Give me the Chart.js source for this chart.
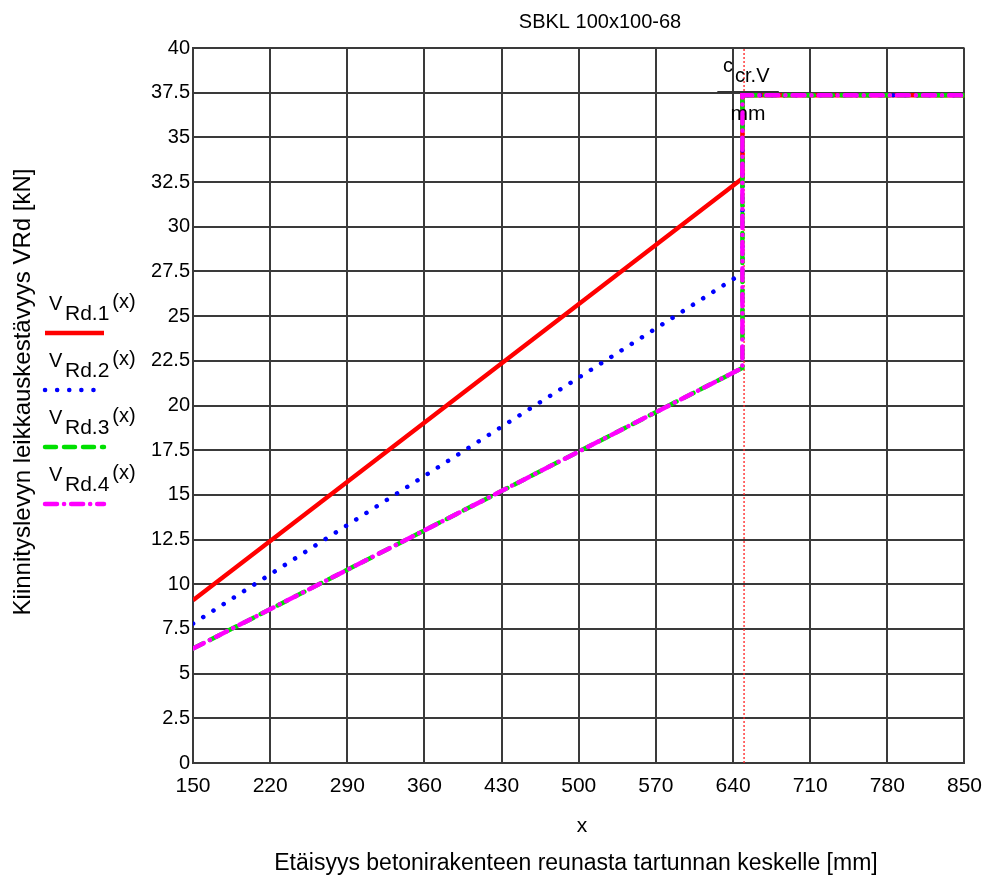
<!DOCTYPE html>
<html>
<head>
<meta charset="utf-8">
<script src="https://cdn.jsdelivr.net/npm/chart.js@4.4.1/dist/chart.umd.min.js"></script>
<style>
html,body{margin:0;padding:0;background:#fff;}
#wrap{position:relative;width:993px;height:877px;}
</style>
</head>
<body>
<div id="wrap"><canvas id="c" width="993" height="877"></canvas></div>
<script>
// ---- data ----
const xTicks = [150, 220, 290, 360, 430, 500, 570, 640, 710, 780, 850];
const yTicks = [0, 2.5, 5, 7.5, 10, 12.5, 15, 17.5, 20, 22.5, 25, 27.5, 30, 32.5, 35, 37.5, 40];
const xPoints = [150, 648.5, 648.5, 850];
const vRd1 = [9.1, 32.7, 37.35, 37.35];
const vRd2 = [7.8, 27.4, 37.35, 37.35];
const vRd3 = [6.4, 22.1, 37.35, 37.35];
const vRd4 = [6.4, 22.1, 37.35, 37.35];
const cCrV = [650, 650];
const cCrVy = [0, 40];
const seriesNames = ['Rd.1', 'Rd.2', 'Rd.3', 'Rd.4'];
const titleText = 'SBKL 100x100-68';
const yTitle = 'Kiinnityslevyn leikkauskestävyys VRd [kN]';
const xTitle1 = 'x';
const xTitle2 = 'Etäisyys betonirakenteen reunasta tartunnan keskelle [mm]';

const FONT = '"Liberation Sans", Arial, sans-serif';
const pts = (xs, ys) => xs.map((x, i) => ({x: x, y: ys[i]}));

const styles = [
  {color: '#ff0000', width: 4.5, dash: [], cap: 'butt'},
  {color: '#0000ff', width: 4.5, dash: [0.1, 12], cap: 'round'},
  {color: '#00e000', width: 4.5, dash: [11, 8], cap: 'round'},
  {color: '#ff00ff', width: 4.5, dash: [12, 7, 0.1, 7], cap: 'round'}
];

const extras = {
  id: 'extras',
  afterDraw(chart) {
    const ctx = chart.ctx;
    const xs = chart.scales.x;
    ctx.save();
    ctx.fillStyle = '#000';
    // title
    ctx.font = '20px ' + FONT;
    ctx.textAlign = 'center';
    ctx.textBaseline = 'alphabetic';
    ctx.fillText(titleText, 600, 28);
    // x titles
    ctx.font = '21px ' + FONT;
    ctx.fillText(xTitle1, 582, 832);
    ctx.font = '23px ' + FONT;
    ctx.fillText(xTitle2, 576, 870);
    // y title
    ctx.save();
    ctx.translate(30, 392);
    ctx.rotate(-Math.PI / 2);
    ctx.font = '24px ' + FONT;
    ctx.fillText(yTitle, 0, 0);
    ctx.restore();
    // legend
    for (let i = 0; i < 4; i++) {
      const base = 310 + i * 57;
      ctx.textAlign = 'left';
      ctx.fillStyle = '#000';
      ctx.font = '20px ' + FONT;
      ctx.fillText('V', 49, base);
      ctx.font = '21px ' + FONT;
      ctx.fillText(seriesNames[i], 65, base + 10);
      const w = ctx.measureText(seriesNames[i]).width;
      ctx.font = '20px ' + FONT;
      ctx.fillText('(x)', 65 + w + 3, base - 2);
      const s = styles[i];
      ctx.beginPath();
      ctx.strokeStyle = s.color;
      ctx.lineWidth = s.width;
      ctx.lineCap = s.cap;
      ctx.setLineDash(s.dash);
      ctx.moveTo(45, base + 23);
      ctx.lineTo(104, base + 23);
      ctx.stroke();
    }
    ctx.setLineDash([]);
    // c_cr.V / mm annotation
    const px = xs.getPixelForValue(cCrV[0]);
    ctx.fillStyle = '#000';
    ctx.textAlign = 'left';
    ctx.font = '20px ' + FONT;
    ctx.fillText('c', px - 21, 72);
    ctx.fillText('cr.V', px - 9, 82);
    ctx.beginPath();
    ctx.strokeStyle = '#333';
    ctx.lineWidth = 2;
    ctx.moveTo(px - 26, 92);
    ctx.lineTo(px + 34, 92);
    ctx.stroke();
    ctx.textAlign = 'center';
    ctx.font = '21px ' + FONT;
    ctx.fillText('mm', px + 4, 120);
    ctx.restore();
  }
};

const datasets = [
  {data: pts(xPoints, vRd4), order: 1},
  {data: pts(xPoints, vRd3), order: 2},
  {data: pts(xPoints, vRd2), order: 3},
  {data: pts(xPoints, vRd1), order: 4}
].map((d, k) => {
  const s = styles[3 - k];
  return Object.assign(d, {
    borderColor: s.color, borderWidth: s.width, borderDash: s.dash,
    borderCapStyle: s.cap, pointRadius: 0, fill: false, tension: 0
  });
});
datasets.push({
  data: pts(cCrV, cCrVy), order: 5, borderColor: '#ff2020', borderWidth: 1.3,
  borderDash: [2, 2], pointRadius: 0, fill: false
});

new Chart(document.getElementById('c'), {
  type: 'line',
  data: {datasets: datasets},
  plugins: [extras],
  options: {
    responsive: false,
    animation: false,
    events: [],
    layout: {padding: {top: 48, right: 27, bottom: 0, left: 0}},
    plugins: {legend: {display: false}, tooltip: {enabled: false}, title: {display: false}},
    scales: {
      x: {
        type: 'linear', min: 150, max: 850,
        afterBuildTicks: s => { s.ticks = xTicks.map(v => ({value: v})); },
        afterFit: s => { s.height = 114; },
        grid: {color: '#3a3a3a', lineWidth: 2, drawTicks: false},
        border: {color: '#3a3a3a', width: 2},
        ticks: {color: '#000', font: {family: FONT, size: 21}, padding: 11, autoSkip: false, maxRotation: 0}
      },
      y: {
        type: 'linear', min: 0, max: 40,
        afterBuildTicks: s => { s.ticks = yTicks.map(v => ({value: v})); },
        afterFit: s => { s.width = 193; },
        grid: {color: '#3a3a3a', lineWidth: 2, drawTicks: false},
        border: {color: '#3a3a3a', width: 2},
        ticks: {color: '#000', font: {family: FONT, size: 20}, padding: 3, autoSkip: false}
      }
    }
  }
});
</script>
</body>
</html>
